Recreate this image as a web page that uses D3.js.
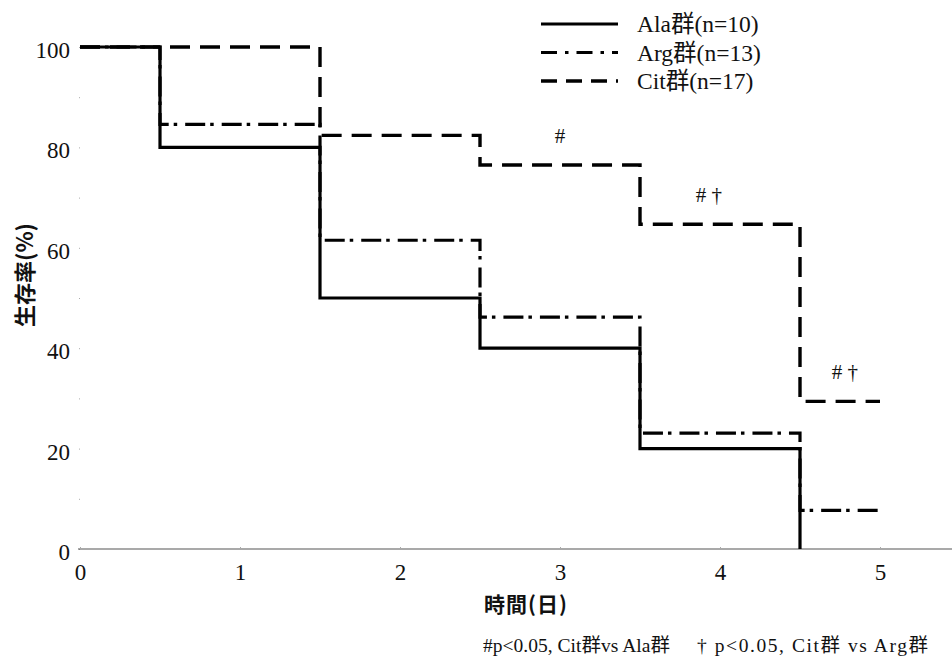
<!DOCTYPE html>
<html>
<head>
<meta charset="utf-8">
<script src="https://cdn.jsdelivr.net/npm/d3@7"></script>
<style>
  html, body { margin: 0; padding: 0; background: #fff; }
  svg { display: block; }
  .serif { font-family: "Liberation Serif", "Noto Sans CJK JP", serif; fill: #111; }
  .gothic { font-family: "Noto Sans CJK JP", sans-serif; font-weight: bold; fill: #111; }
</style>
</head>
<body>
<script>
// Survival curves (Kaplan-Meier style steps), survival rate in %
const alaDays = [0, 0.5, 1.5, 2.5, 3.5, 4.5];
const alaSurvival = [100, 80, 50, 40, 20, 0];                // n = 10
const argDays = [0, 0.5, 1.5, 2.5, 3.5, 4.5, 5];
const argSurvival = [100, 84.6, 61.5, 46.2, 23.1, 7.7, 7.7]; // n = 13
const citDays = [0, 1.5, 2.5, 3.5, 4.5, 5];
const citSurvival = [100, 82.4, 76.5, 64.7, 29.4, 29.4];     // n = 17

const seriesNames = ["Ala群(n=10)", "Arg群(n=13)", "Cit群(n=17)"];
const xTicks = [0, 1, 2, 3, 4, 5];
const yTicks = [0, 20, 40, 60, 80, 100];

// significance markers placed over the Cit curve
const markDays = [3, 3.93, 4.78];
const markLevels = [76.5, 64.7, 29.4];
const markTexts = ["#", "# †", "# †"];

const W = 952, H = 657;
const svg = d3.select("body").append("svg").attr("width", W).attr("height", H);

const x = d3.scaleLinear().domain([0, 5.45]).range([80, 952]);
const y = d3.scaleLinear().domain([0, 100]).range([549, 47]);

// y axis: no spine, faint dots every 10, labels every 20
const yAxis = d3.axisLeft(y).tickValues(d3.range(0, 101, 10)).tickSize(1).tickPadding(9)
  .tickFormat(d => yTicks.includes(d) ? d : "");
const gy = svg.append("g").attr("transform", "translate(80,0)").call(yAxis);
gy.select(".domain").remove();
gy.selectAll(".tick line").attr("stroke", "#aaa");
gy.selectAll(".tick text").attr("class", "serif").attr("font-size", 23).attr("dy", "0.46em");

// x axis
const xAxis = d3.axisBottom(x).tickValues(xTicks).tickSizeInner(-2).tickSizeOuter(0).tickPadding(8)
  .tickFormat(d3.format("d"));
const gx = svg.append("g").attr("transform", "translate(0,549)").call(xAxis);
gx.select(".domain").attr("stroke", "#555").attr("stroke-width", 1.2).attr("d", "M78,0H952");
gx.selectAll(".tick line").attr("stroke", "#aaa");
gx.selectAll(".tick text").attr("class", "serif").attr("font-size", 23).attr("dy", "0.98em");

const line = d3.line().x(d => x(d[0])).y(d => y(d[1])).curve(d3.curveStepAfter);

const styles = [
  { dash: null, width: 3.2 },
  { dash: "20,5,3.5,8", width: 3.2 },
  { dash: "20,10", width: 3.4 }
];

const series = [
  { days: citDays, vals: citSurvival, style: styles[2] },
  { days: argDays, vals: argSurvival, style: styles[1] },
  { days: alaDays, vals: alaSurvival, style: styles[0] }
];

series.forEach(s => {
  svg.append("path")
    .datum(s.days.map((d, i) => [d, s.vals[i]]))
    .attr("d", line)
    .attr("fill", "none")
    .attr("stroke", "#000")
    .attr("stroke-width", s.style.width)
    .attr("stroke-dasharray", s.style.dash)
    .attr("stroke-linejoin", "miter")
    .attr("stroke-linecap", "butt");
});

// significance marks
svg.selectAll("text.mark").data(markDays).enter().append("text")
  .attr("class", "serif")
  .attr("x", d => x(d))
  .attr("y", (d, i) => y(markLevels[i]) - 22)
  .attr("text-anchor", "middle")
  .attr("font-size", 21)
  .text((d, i) => markTexts[i]);

// legend
const lg = svg.append("g");
seriesNames.forEach((name, i) => {
  const ly = 24 + i * 28.5;
  lg.append("line").attr("x1", 541).attr("x2", 618).attr("y1", ly).attr("y2", ly)
    .attr("stroke", "#000").attr("stroke-width", styles[i].width)
    .attr("stroke-dasharray", i === 1 ? "16,8,3.5,8" : (i === 2 ? "16,9" : null));
  lg.append("text").attr("class", "serif").attr("x", 637).attr("y", ly + 8)
    .attr("font-size", 23.5).text(name);
});

// axis titles
svg.append("text").attr("class", "gothic").attr("font-size", 22)
  .attr("transform", "translate(33,275) rotate(-90)").attr("text-anchor", "middle")
  .text("生存率(%)");
svg.append("text").attr("class", "gothic").attr("font-size", 21)
  .attr("x", 526).attr("y", 612).attr("text-anchor", "middle").attr("letter-spacing", 1)
  .text("時間(日)");

// footnote
svg.append("text").attr("class", "serif").attr("font-size", 19.5)
  .attr("x", 483).attr("y", 652).attr("textLength", 187).attr("lengthAdjust", "spacing")
  .text("#p<0.05, Cit群vs Ala群");
svg.append("text").attr("class", "serif").attr("font-size", 19.5)
  .attr("x", 697).attr("y", 652).attr("textLength", 231).attr("lengthAdjust", "spacing")
  .text("† p<0.05, Cit群 vs Arg群");
</script>
</body>
</html>
